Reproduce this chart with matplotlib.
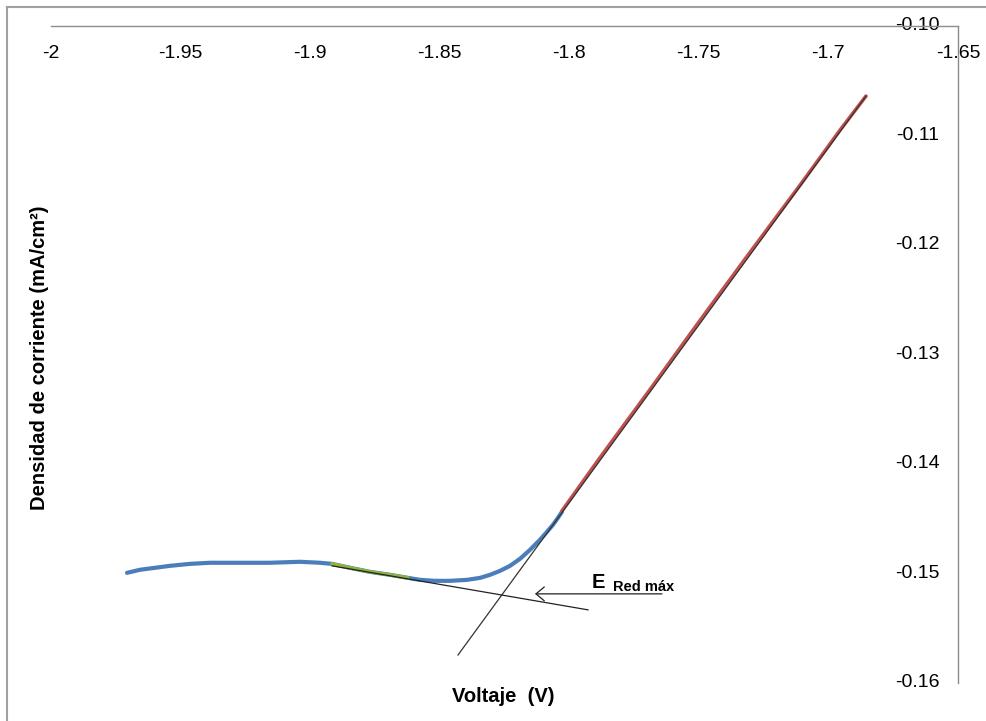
import matplotlib
matplotlib.use("Agg")
import matplotlib.pyplot as plt
from matplotlib.lines import Line2D

plt.rcParams['font.family'] = ['Liberation Sans', 'DejaVu Sans']

# ---- data ----
blue_v = [-1.97067, -1.96566, -1.95987, -1.95408, -1.94636, -1.93864, -1.92707, -1.91549,
          -1.90391, -1.89620, -1.89157, -1.88462, -1.87690, -1.86918, -1.86224, -1.85761,
          -1.85182, -1.84603, -1.83947, -1.83445, -1.83059, -1.82674, -1.82288, -1.81902,
          -1.81516, -1.81130, -1.80860, -1.80628, -1.80436, -1.80281]
blue_j = [-0.14994, -0.14966, -0.14948, -0.14930, -0.14912, -0.14902, -0.14902, -0.14902,
          -0.14893, -0.14902, -0.14912, -0.14948, -0.14985, -0.15012, -0.15040, -0.15058,
          -0.15067, -0.15067, -0.15058, -0.15040, -0.15012, -0.14976, -0.14930, -0.14866,
          -0.14784, -0.14692, -0.14619, -0.14555, -0.14491, -0.14436]

green_v = [-1.89157, -1.88462, -1.87690, -1.86918, -1.86224]
green_j = [-0.14912, -0.14948, -0.14985, -0.15012, -0.15040]

red_v = [-1.80281, -1.78815, -1.76885, -1.74956, -1.73026, -1.71097, -1.69553, -1.68550]
red_j = [-0.14427, -0.13942, -0.13320, -0.12689, -0.12067, -0.11454, -0.10951, -0.10640]

tangent1_v = [-1.84294, -1.68550]
tangent1_j = [-0.15744, -0.10640]
tangent2_v = [-1.89157, -1.79278]
tangent2_j = [-0.14930, -0.15332]

arrow_from = (-1.76422, -0.15186)
arrow_to = (-1.81323, -0.15186)

x_ticks = [-2.0, -1.95, -1.9, -1.85, -1.8, -1.75, -1.7, -1.65]
x_labels = ['-2', '-1.95', '-1.9', '-1.85', '-1.8', '-1.75', '-1.7', '-1.65']
y_ticks = [-0.16, -0.15, -0.14, -0.13, -0.12, -0.11, -0.10]
y_labels = ['-0.16', '-0.15', '-0.14', '-0.13', '-0.12', '-0.11', '-0.10']

W, H = 986, 721
fig = plt.figure(figsize=(W / 100, H / 100), dpi=100)
ax = fig.add_axes([51 / W, 1 - 683 / H, (958 - 51) / W, (683 - 26) / H])
ax.set_xlim(-2.0, -1.65)
ax.set_ylim(-0.16, -0.10)

ax.plot(blue_v, blue_j, color='#4A7EBB', lw=3.0, solid_capstyle='round',
        solid_joinstyle='round', zorder=2)
ax.plot(green_v, green_j, color='#8DB43E', lw=2.6, solid_capstyle='round', zorder=3)
ax.plot(red_v, red_j, color='#C0504D', lw=2.6, solid_capstyle='round', zorder=3)
ax.plot(tangent1_v, tangent1_j, color='#333333', lw=0.9, zorder=4)
ax.plot(tangent2_v, tangent2_j, color='#222222', lw=0.9, zorder=4)

ax.annotate('', xy=arrow_to, xytext=arrow_from,
            arrowprops=dict(arrowstyle='->, head_length=0.6, head_width=0.5',
                            color='#222222', lw=0.9, mutation_scale=10,
                            shrinkA=0, shrinkB=0))
ax.text(-1.7914, -0.15131, 'E', fontsize=14.5, fontweight='bold', ha='left', va='baseline')
ax.text(-1.7831, -0.15160, 'Red máx', fontsize=10.5, fontweight='bold', ha='left', va='baseline')

# spines: only top and right, gray
for s in ['left', 'bottom']:
    ax.spines[s].set_visible(False)
for s in ['top', 'right']:
    ax.spines[s].set_color('#8C8C8C')
    ax.spines[s].set_linewidth(1.0)

ax.xaxis.tick_top()
ax.yaxis.tick_right()
ax.set_xticks(x_ticks)
ax.set_xticklabels(x_labels)
ax.set_yticks(y_ticks)
ax.set_yticklabels(y_labels)
ax.tick_params(axis='x', length=0, pad=-19.5, labelsize=14)
ax.tick_params(axis='y', length=0, pad=-13.5, labelsize=14)
for lab in ax.get_xticklabels():
    lab.set_va('center')
for lab in ax.get_yticklabels():
    lab.set_ha('right')
    lab.set_va('center')

ax.xaxis.set_label_position('bottom')
ax.set_xlabel('Voltaje  (V)', fontsize=14.5, fontweight='bold')
ax.xaxis.set_label_coords((503 - 51) / 907, (683 - 697) / 657)
ax.xaxis.label.set_va('center')

ax.yaxis.set_label_position('left')
ax.set_ylabel('Densidad de corriente (mA/cm²)', fontsize=14.5, fontweight='bold')
ax.yaxis.set_label_coords((40 - 51) / 907, (683 - 358) / 657)
ax.yaxis.label.set_va('center')

# outer chart-area border (left and top edges visible)
fig.add_artist(Line2D([7 / W, 7 / W], [0, 1 - 7 / H], color='#A0A0A0', lw=1.5))
fig.add_artist(Line2D([7 / W, 1], [1 - 7 / H, 1 - 7 / H], color='#A0A0A0', lw=1.5))

fig.savefig('out.png', dpi=100)
